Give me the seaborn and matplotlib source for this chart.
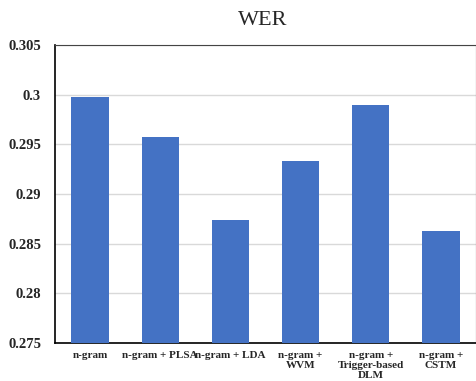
import pandas as pd
import numpy as np
import matplotlib.pyplot as plt
import seaborn as sns

sns.set_style("white")
plt.rcParams['font.family'] = ['Liberation Serif', 'DejaVu Serif']

# data
models = ['n-gram', 'n-gram + PLSA', 'n-gram + LDA', 'n-gram +\nWVM',
          'n-gram +\nTrigger-based\nDLM', 'n-gram +\nCSTM']
wer = [0.2998, 0.2957, 0.2874, 0.2933, 0.2990, 0.2863]
yticks = [0.275, 0.28, 0.285, 0.29, 0.295, 0.3, 0.305]
ytick_labels = ['0.275', '0.28', '0.285', '0.29', '0.295', '0.3', '0.305']

df = pd.DataFrame({'model': models, 'wer': wer})

fig = plt.figure(figsize=(4.77, 3.81), dpi=100)
ax = fig.add_axes([0.1153, 0.0997, 0.8827, 0.7823])

sns.barplot(data=df, x='model', y='wer', color='#4472C4', saturation=1,
            width=0.53, ax=ax, zorder=3, edgecolor='none', linewidth=0)

ax.set_ylim(0.275, 0.305)
ax.set_yticks(yticks)
ax.set_yticklabels(ytick_labels, fontsize=10.5, fontweight='bold')
ax.set_xticklabels(models, fontsize=8, fontweight='bold', linespacing=1.15)
ax.tick_params(axis='both', length=0)
ax.tick_params(axis='x', pad=6)
ax.tick_params(axis='y', pad=10)
ax.yaxis.grid(True, color='#d9d9d9', linewidth=1, zorder=0)
ax.set_xlabel('')
ax.set_ylabel('')
for side in ['left', 'bottom']:
    ax.spines[side].set_color('black')
    ax.spines[side].set_linewidth(1.2)
for side in ['top', 'right']:
    ax.spines[side].set_color('#444444')
    ax.spines[side].set_linewidth(0.8)

fig.text(0.55, 0.945, 'WER', ha='center', va='center', fontsize=16)

plt.savefig('out.png', dpi=100)
plt.close()
